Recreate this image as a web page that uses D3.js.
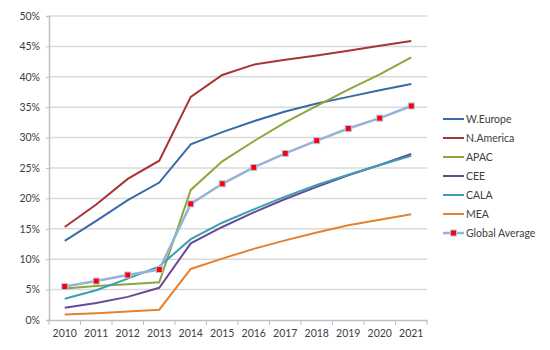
<!DOCTYPE html>
<html lang="en">
<head>
    <title>Regional share chart</title>
    <script src='https://d3js.org/d3.v7.min.js'></script>
    <style>
        body { margin: 0; background: #fff; }
        text { font-family: Lato, "Open Sans", sans-serif; fill: #404040; }
    </style>
</head>
<body>
<script>

// categories and series (percent values)
var years = ["2010","2011","2012","2013","2014","2015","2016","2017","2018","2019","2020","2021"];
var wEurope   = [13.0, 16.3, 19.7, 22.6, 28.9, 30.9, 32.7, 34.3, 35.6, 36.7, 37.8, 38.8];
var nAmerica  = [15.3, 19.0, 23.2, 26.2, 36.7, 40.3, 42.0, 42.8, 43.5, 44.3, 45.1, 45.9];
var apac      = [5.2, 5.6, 5.9, 6.2, 21.4, 26.1, 29.4, 32.5, 35.2, 37.9, 40.4, 43.2];
var cee       = [2.0, 2.8, 3.8, 5.3, 12.6, 15.3, 17.7, 19.9, 21.9, 23.8, 25.5, 27.3];
var cala      = [3.5, 4.9, 6.8, 8.8, 13.3, 16.0, 18.2, 20.3, 22.2, 23.9, 25.5, 27.0];
var mea       = [0.9, 1.1, 1.4, 1.7, 8.4, 10.1, 11.7, 13.1, 14.4, 15.6, 16.5, 17.4];
var globalAvg = [5.5, 6.4, 7.4, 8.3, 19.1, 22.4, 25.1, 27.4, 29.5, 31.5, 33.2, 35.2];
var yTicks    = [0, 5, 10, 15, 20, 25, 30, 35, 40, 45, 50];

var seriesNames = ["W.Europe", "N.America", "APAC", "CEE", "CALA", "MEA", "Global Average"];
var seriesData  = [wEurope, nAmerica, apac, cee, cala, mea, globalAvg];
var seriesColor = ["#3a6aa8", "#a83434", "#8aa83c", "#6a4a92", "#3a9fb3", "#e6812f", "#95b3d7"];

const W = 550, H = 350;
const plotLeft = 49, plotRight = 427, plotTop = 16, plotBottom = 320;

const svg = d3.select("body").append("svg")
    .attr("width", W).attr("height", H);

var x = d3.scaleBand().domain(years).range([plotLeft, plotRight]);
var y = d3.scaleLinear().domain([0, 50]).range([plotBottom, plotTop]);

// gridlines
svg.append("g")
    .selectAll("line")
    .data(yTicks.slice(1))
    .enter().append("line")
    .attr("x1", plotLeft).attr("x2", plotRight)
    .attr("y1", d => y(d)).attr("y2", d => y(d))
    .attr("stroke", "#d9d9d9").attr("stroke-width", 1.5);

// y axis
var yAxis = svg.append("g")
    .attr("transform", "translate(" + plotLeft + ",0)")
    .call(d3.axisLeft(y).tickValues(yTicks).tickFormat(d => d + "%").tickSize(3).tickPadding(6));
yAxis.select(".domain").attr("stroke", "#bfbfbf").attr("stroke-width", 1.5);
yAxis.selectAll(".tick line").attr("stroke", "#bfbfbf");
yAxis.selectAll("text").style("font-size", "10.5px").attr("fill", "#404040");

// x axis with ticks between categories
var xAxis = svg.append("g")
    .attr("transform", "translate(0," + plotBottom + ")")
    .call(d3.axisBottom(x).tickSize(0).tickPadding(10));
xAxis.select(".domain").attr("stroke", "#bfbfbf").attr("stroke-width", 1.5);
xAxis.selectAll("text").style("font-size", "10.5px").attr("fill", "#404040");
xAxis.selectAll(".sep")
    .data(d3.range(years.length + 1))
    .enter().append("line")
    .attr("class", "sep")
    .attr("x1", i => plotLeft + i * x.step()).attr("x2", i => plotLeft + i * x.step())
    .attr("y1", 0).attr("y2", 5)
    .attr("stroke", "#bfbfbf");

var line = d3.line()
    .x((d, i) => x(years[i]) + x.bandwidth() / 2)
    .y(d => y(d));

// series lines
seriesData.forEach(function (vals, s) {
    svg.append("path")
        .datum(vals)
        .attr("fill", "none")
        .attr("stroke", seriesColor[s])
        .attr("stroke-width", s == 6 ? 2.5 : 2)
        .attr("d", line);
});

// markers on the global average
svg.append("g")
    .selectAll("rect")
    .data(globalAvg)
    .enter().append("rect")
    .attr("x", (d, i) => x(years[i]) + x.bandwidth() / 2 - 3)
    .attr("y", d => y(d) - 3)
    .attr("width", 6).attr("height", 6)
    .attr("fill", "#ff0000")
    .attr("stroke", "#a8c8ec").attr("stroke-width", 1);

// legend
var legend = svg.append("g").attr("transform", "translate(443,119)");
var items = legend.selectAll("g")
    .data(seriesNames)
    .enter().append("g")
    .attr("transform", (d, i) => "translate(0," + i * 19 + ")");
items.append("line")
    .attr("x1", 0).attr("x2", 21).attr("y1", 0).attr("y2", 0)
    .attr("stroke", (d, i) => seriesColor[i])
    .attr("stroke-width", (d, i) => i == 6 ? 2.5 : 2);
items.filter((d, i) => i == 6).append("rect")
    .attr("x", 7.5).attr("y", -3).attr("width", 6).attr("height", 6)
    .attr("fill", "#ff0000").attr("stroke", "#a8c8ec");
items.append("text")
    .attr("x", 23).attr("y", 4)
    .style("font-size", "10.5px")
    .text(d => d);

</script>
</body>
</html>
